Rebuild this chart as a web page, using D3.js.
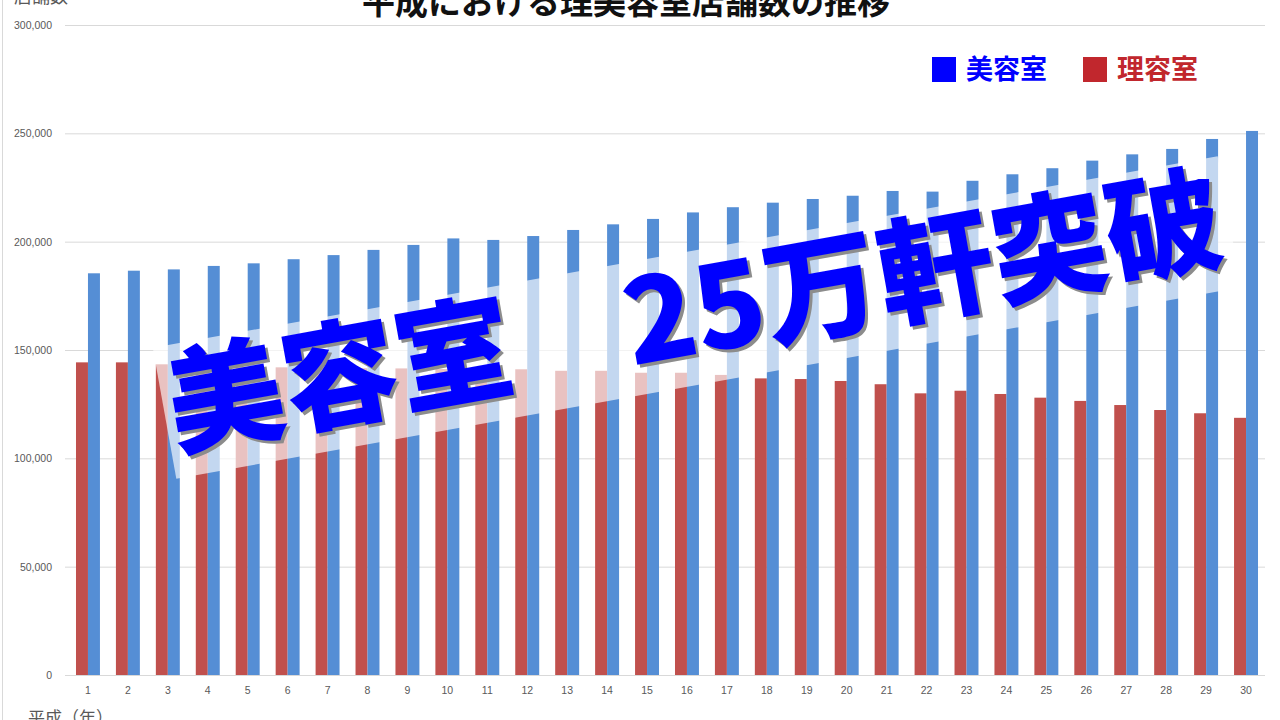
<!DOCTYPE html>
<html>
<head>
<meta charset="utf-8">
<script src="https://cdn.jsdelivr.net/npm/d3@7"></script>
<style>
  html, body { margin: 0; padding: 0; background: #fff; overflow: hidden; }
  svg { display: block; }
</style>
</head>
<body>
<div id="chart"></div>
<script>
/* 平成1〜30年 */
const years = [1, 2, 3, 4, 5, 6, 7, 8, 9, 10, 11, 12, 13, 14, 15,
               16, 17, 18, 19, 20, 21, 22, 23, 24, 25, 26, 27, 28, 29, 30];
const seriesNames = ["理容室", "美容室"];

/* 店舗数 */
const barberShops = [144300, 144300, 143400, 142600, 142200, 142000, 141800, 141600, 141500, 141200,
                     140800, 141100, 140400, 140400, 139500, 139500, 138500, 136900, 136600, 135700,
                     134200, 130000, 131200, 129700, 128000, 126500, 124600, 122300, 120800, 118700];
const beautySalons = [185400, 186600, 187200, 188800, 190000, 191900, 193800, 196200, 198500, 201500,
                      200800, 202600, 205400, 208000, 210500, 213500, 215900, 218000, 219700, 221200,
                      223400, 223100, 228100, 231100, 233900, 237400, 240300, 242800, 247400, 251100];
const yTicks = [0, 50000, 100000, 150000, 200000, 250000, 300000];

const width = 1280, height = 720;
const margins = {top: 25, right: 15, bottom: 45, left: 65};

const svg = d3.select("#chart")
    .append("svg")
    .attr("width", width)
    .attr("height", height)
    .attr("viewBox", [0, 0, width, height]);

/* chart area border on the left */
svg.append("line")
    .attr("x1", 2.5).attr("x2", 2.5)
    .attr("y1", 0).attr("y2", height)
    .attr("stroke", "#d9d9d9");

/* scales */
const xScale = d3.scaleBand()
    .domain(years)
    .range([68, 1266])
    .paddingInner(0.4)
    .paddingOuter(0.2);
const xInner = d3.scaleBand()
    .domain(seriesNames)
    .range([0, xScale.bandwidth()]);
const yScale = d3.scaleLinear()
    .domain([0, 300000])
    .range([height - margins.bottom, margins.top]);
const color = d3.scaleOrdinal()
    .domain(seriesNames)
    .range(["#c0504d", "#558ed5"]);

/* y axis + gridlines */
const yGroup = svg.append("g")
    .attr("transform", `translate(${margins.left},0)`)
    .call(d3.axisLeft(yScale)
        .tickValues(yTicks)
        .tickFormat(d3.format(","))
        .tickSize(-(width - margins.right - margins.left))
        .tickPadding(13));
yGroup.select(".domain").remove();
yGroup.selectAll("line").attr("stroke", "#d9d9d9");
yGroup.selectAll("text")
    .attr("fill", "#595959")
    .style("font-family", "'Liberation Sans', Arial, sans-serif")
    .style("font-size", "10.5px");

/* bars */
const rows = years.map((y, i) => ({year: y, values: [
    {name: "理容室", value: barberShops[i]},
    {name: "美容室", value: beautySalons[i]}
]}));

svg.append("g")
    .selectAll("g")
    .data(rows)
    .join("g")
    .attr("transform", d => `translate(${xScale(d.year)},0)`)
    .selectAll("rect")
    .data(d => d.values)
    .join("rect")
    .attr("x", d => xInner(d.name))
    .attr("y", d => yScale(d.value))
    .attr("width", xInner.bandwidth())
    .attr("height", d => yScale(0) - yScale(d.value))
    .attr("fill", d => color(d.name));

/* x axis */
const xGroup = svg.append("g")
    .attr("transform", `translate(0,${yScale(0)})`)
    .call(d3.axisBottom(xScale).tickSize(0).tickPadding(12));
xGroup.select(".domain").remove();
xGroup.selectAll("text")
    .attr("fill", "#595959")
    .style("font-family", "'Liberation Sans', Arial, sans-serif")
    .style("font-size", "10.5px");

/* axis titles, chart title (cut by the frame, as in the source) */
svg.append("text")
    .attr("x", 14).attr("y", 3)
    .attr("fill", "#595959")
    .style("font-family", "'Noto Sans CJK JP', sans-serif")
    .style("font-size", "18px")
    .text("店舗数");

svg.append("text")
    .attr("x", 28).attr("y", 724)
    .attr("fill", "#595959")
    .style("font-family", "'Noto Sans CJK JP', sans-serif")
    .style("font-size", "17px")
    .text("平成（年）");

svg.append("text")
    .attr("x", 626).attr("y", 14)
    .attr("text-anchor", "middle")
    .attr("fill", "#111")
    .style("font-family", "'Noto Sans CJK JP', sans-serif")
    .style("font-weight", "bold")
    .style("font-size", "33px")
    .text("平成における理美容室店舗数の推移");

/* legend */
const legend = svg.append("g").attr("class", "legend");
const legendItems = [
    {name: "美容室", x: 932, swatch: "#0000ff", text: "#0000ff"},
    {name: "理容室", x: 1083, swatch: "#c1272d", text: "#c1272d"}
];
legendItems.forEach(it => {
    legend.append("rect")
        .attr("x", it.x).attr("y", 57)
        .attr("width", 24).attr("height", 25)
        .attr("fill", it.swatch);
    legend.append("text")
        .attr("x", it.x + 34).attr("y", 79)
        .attr("fill", it.text)
        .style("font-family", "'Noto Sans CJK JP', sans-serif")
        .style("font-weight", "bold")
        .style("font-size", "27px")
        .text(it.name);
});

/* translucent band + headline */
const angle = -10.2;
svg.append("rect")
    .attr("transform", `translate(697,317.5) rotate(${angle})`)
    .attr("x", -541).attr("y", -66.5)
    .attr("width", 1082).attr("height", 133)
    .attr("fill", "#fff")
    .attr("fill-opacity", 0.65);

const headline = "美容室　25万軒突破";
const headStyle = sel => sel
    .attr("text-anchor", "middle")
    .style("font-family", "'Noto Sans CJK JP', sans-serif")
    .style("font-weight", "900")
    .style("font-size", "116px")
    .text(headline);

svg.append("text")
    .attr("transform", `translate(705,356) rotate(${angle})`)
    .attr("fill", "#8c8c8c")
    .call(headStyle);
svg.append("text")
    .attr("transform", `translate(702,353) rotate(${angle})`)
    .attr("fill", "#0000ff")
    .call(headStyle);
</script>
</body>
</html>
